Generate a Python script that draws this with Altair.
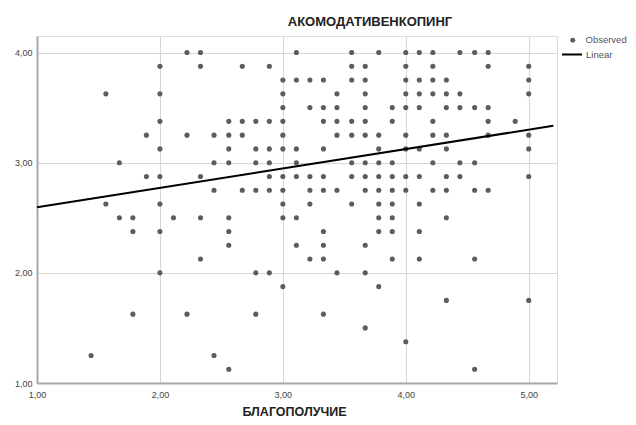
import altair as alt
import pandas as pd

# y values of the observed points (rows) and the x values found in each row
y_levels = [4.000, 3.875, 3.750, 3.625, 3.500, 3.375, 3.250, 3.125, 3.000,
            2.875, 2.750, 2.625, 2.500, 2.375, 2.250, 2.125, 2.000, 1.875,
            1.750, 1.625, 1.500, 1.375, 1.250, 1.125]
x_by_level = [
    [2.22, 2.33, 3.11, 3.56, 3.78, 4.00, 4.11, 4.22, 4.44, 4.56, 4.67],
    [2.00, 2.33, 2.67, 2.89, 3.56, 3.67, 4.00, 4.22, 4.67, 5.00],
    [3.00, 3.11, 3.22, 3.33, 3.56, 3.67, 4.00, 4.11, 4.22, 4.33, 5.00],
    [1.56, 2.00, 3.00, 3.44, 3.67, 4.00, 4.11, 4.22, 4.33, 4.44, 5.00],
    [3.00, 3.22, 3.33, 3.44, 3.67, 3.89, 4.00, 4.11, 4.33, 4.44, 4.56, 4.67],
    [2.00, 2.56, 2.67, 2.78, 2.89, 3.00, 3.33, 3.44, 3.56, 3.67, 3.89, 4.22, 4.67, 4.89],
    [1.89, 2.22, 2.44, 2.56, 2.67, 3.00, 3.44, 3.56, 3.67, 3.78, 4.00, 4.22, 4.33, 4.67, 5.00],
    [2.00, 2.56, 2.78, 2.89, 3.00, 3.11, 3.33, 3.78, 4.00, 4.11, 4.33, 5.00],
    [1.67, 2.44, 2.56, 2.78, 2.89, 3.11, 3.56, 3.67, 3.78, 3.89, 4.22, 4.44, 4.56],
    [1.89, 2.00, 2.33, 2.89, 3.00, 3.11, 3.22, 3.33, 3.56, 3.67, 3.78, 3.89, 4.00, 4.11, 4.33, 4.44, 5.00],
    [2.44, 2.67, 2.78, 2.89, 3.00, 3.22, 3.33, 3.44, 3.67, 3.78, 3.89, 4.00, 4.22, 4.33, 4.56, 4.67],
    [1.56, 2.00, 3.00, 3.22, 3.56, 3.78, 3.89, 4.11],
    [1.67, 1.78, 2.11, 2.33, 2.56, 3.00, 3.11, 3.78, 3.89, 4.33],
    [1.78, 2.00, 2.56, 3.33, 3.78, 3.89, 4.11],
    [2.56, 3.11, 3.33, 3.67],
    [2.33, 3.22, 3.33, 3.89, 4.11, 4.56],
    [2.00, 2.78, 2.89, 3.44, 3.67],
    [3.00, 3.78],
    [4.33, 5.00],
    [1.78, 2.22, 2.78, 3.33],
    [3.67],
    [4.00],
    [1.44, 2.44],
    [2.56, 4.56],
]

# Linear fit line, end points
line_x = [1.00, 5.20]
line_y = [2.595, 3.335]

x_ticks = [1, 2, 3, 4, 5]
y_ticks = [1, 2, 3, 4]

rows = []
for yv, xs in zip(y_levels, x_by_level):
    for xv in xs:
        rows.append({"x": xv, "y": yv, "series": "Observed"})
obs = pd.DataFrame(rows)
fit = pd.DataFrame({"x": line_x, "y": line_y, "fit": ["Linear"] * len(line_x)})

FONT = "Liberation Sans"
label_expr = "replace(format(datum.value, '.2f'), '.', ',')"

x_scale = alt.Scale(domain=[1, 5.23], nice=False, zero=False)
y_scale = alt.Scale(domain=[1, 4.15], nice=False, zero=False)

x_axis = alt.Axis(
    values=x_ticks, labelExpr=label_expr, title="БЛАГОПОЛУЧИЕ", labelFlush=False,
    grid=True, gridColor="#d6d6d6", gridWidth=1,
    ticks=False, domainColor="#a8a8a8", domainWidth=2,
    labelFont=FONT, labelFontSize=9, labelColor="#444", labelPadding=7,
    titleFont=FONT, titleFontSize=12.5, titleFontWeight="bold", titleColor="#222",
    titleX=257, titleY=28, titleBaseline="middle",
)
y_axis = alt.Axis(
    values=y_ticks, labelExpr=label_expr, title=None, labelFlush=False,
    grid=True, gridColor="#d6d6d6", gridWidth=1,
    ticks=False, domainColor="#a8a8a8", domainWidth=2,
    labelFont=FONT, labelFontSize=9, labelColor="#444", labelPadding=5,
)

points = alt.Chart(obs).mark_circle(size=26, opacity=1).encode(
    x=alt.X("x:Q", scale=x_scale, axis=x_axis),
    y=alt.Y("y:Q", scale=y_scale, axis=y_axis),
    color=alt.Color(
        "series:N",
        scale=alt.Scale(domain=["Observed"], range=["#5c5c5c"]),
        legend=alt.Legend(
            title=None, orient="none", legendX=531, legendY=-0.5, padding=0,
            symbolType="circle", symbolSize=24, symbolStrokeWidth=0,
            labelFont=FONT, labelFontSize=9.5, labelColor="#555", labelOffset=8,
        ),
    ),
)

line = alt.Chart(fit).mark_line(strokeWidth=2).encode(
    x=alt.X("x:Q", scale=x_scale),
    y=alt.Y("y:Q", scale=y_scale),
    color=alt.Color(
        "fit:N",
        scale=alt.Scale(domain=["Linear"], range=["#000000"]),
        legend=alt.Legend(
            title=None, orient="none", legendX=524, legendY=7.5, padding=0,
            symbolType="stroke", symbolSize=400, symbolStrokeWidth=2,
            labelFont=FONT, labelFontSize=9.5, labelColor="#555", labelOffset=3,
        ),
    ),
)

chart = alt.layer(points, line).resolve_scale(color="independent").properties(
    width=520,
    height=347,
    autosize=alt.AutoSizeParams(type="none"),
    padding={"left": 29, "top": 28, "right": 71, "bottom": 34},
    title=alt.TitleParams(
        "АКОМОДАТИВЕНКОПИНГ", anchor="middle", frame="group", dx=73, offset=7,
        font=FONT, fontSize=13, fontWeight="bold", color="#222",
    ),
).configure_view(stroke=None).configure(background="white")

chart.save("out.html", embed_options={"renderer": "svg", "actions": False})
